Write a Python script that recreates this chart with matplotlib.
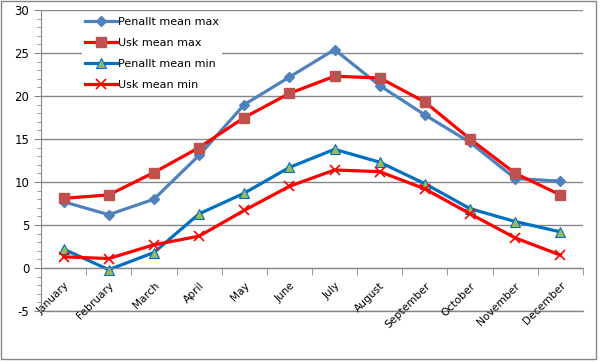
import matplotlib.pyplot as plt
from matplotlib.patches import Rectangle
from matplotlib.ticker import MultipleLocator, FixedLocator

plt.rcParams["axes.unicode_minus"] = False

months = ["January", "February", "March", "April", "May", "June", "July",
          "August", "September", "October", "November", "December"]
penallt_max = [7.7, 6.2, 8.0, 13.1, 19.0, 22.2, 25.4, 21.2, 17.8, 14.6, 10.4, 10.1]
usk_max = [8.1, 8.5, 11.1, 14.0, 17.5, 20.3, 22.3, 22.1, 19.3, 15.0, 11.0, 8.5]
penallt_min = [2.2, -0.2, 1.8, 6.3, 8.7, 11.7, 13.8, 12.3, 9.8, 6.9, 5.4, 4.2]
usk_min = [1.3, 1.1, 2.7, 3.7, 6.7, 9.5, 11.4, 11.2, 9.2, 6.3, 3.5, 1.5]

grey = "#868686"
fig = plt.figure(figsize=(6.01, 3.62), dpi=100)
ax = fig.add_axes([41 / 601, 1 - 311 / 362, 542 / 601, 301 / 362])

# spine position first, it resets the ticks
for s in ["top", "right"]:
    ax.spines[s].set_visible(False)
ax.spines["bottom"].set_position(("data", 0))
ax.spines["bottom"].set_color(grey)
ax.spines["left"].set_color(grey)

x = range(len(months))
ax.plot(x, penallt_max, color="#4F81BD", lw=2.3, marker="D", ms=5,
        label="Penallt mean max")
ax.plot(x, usk_max, color="#FF0000", lw=2.3, marker="s", ms=7,
        mfc="#C0504D", mec="#C0504D", label="Usk mean max")
ax.plot(x, penallt_min, color="#0070C0", lw=2.3, marker="^", ms=7,
        mfc="#9BBB59", mec="#0070C0", mew=0.8, label="Penallt mean min")
ax.plot(x, usk_min, color="#FF0000", lw=2.3, marker="x", ms=7, mew=1.2,
        label="Usk mean min")

ax.set_xlim(-0.5, 11.5)
ax.set_ylim(-5, 30)
ax.yaxis.set_major_locator(MultipleLocator(5))
ax.yaxis.set_minor_locator(MultipleLocator(1))
ax.grid(axis="y", color=grey, lw=1)
ax.axhline(-5, color=grey, lw=1, clip_on=False, zorder=0.5)
ax.set_axisbelow(True)

ax.set_xticks(list(x))
ax.set_xticklabels(months, rotation=45, ha="right", va="top",
                   rotation_mode="anchor", fontsize=7.7)
ax.xaxis.set_minor_locator(FixedLocator([i - 0.5 for i in range(13)]))
ax.tick_params(axis="x", which="major", length=0, pad=9)
ax.tick_params(axis="x", which="minor", length=5, color=grey, direction="out")
ax.tick_params(axis="y", which="major", length=5, color=grey, labelsize=8.5)
ax.tick_params(axis="y", which="minor", length=3, color=grey)

leg = ax.legend(loc="upper left", bbox_to_anchor=(0.065, 1.005), fontsize=8,
                frameon=True, fancybox=False, edgecolor="none",
                facecolor="white", framealpha=1, handlelength=2.9,
                labelspacing=1.0, handletextpad=0.1, borderpad=0.25)

fig.patches.append(Rectangle((0.5 / 601, 3 / 362), 595.5 / 601, 358 / 362,
                             transform=fig.transFigure, fill=False,
                             ec=grey, lw=1))

fig.savefig("out.png", dpi=100)
